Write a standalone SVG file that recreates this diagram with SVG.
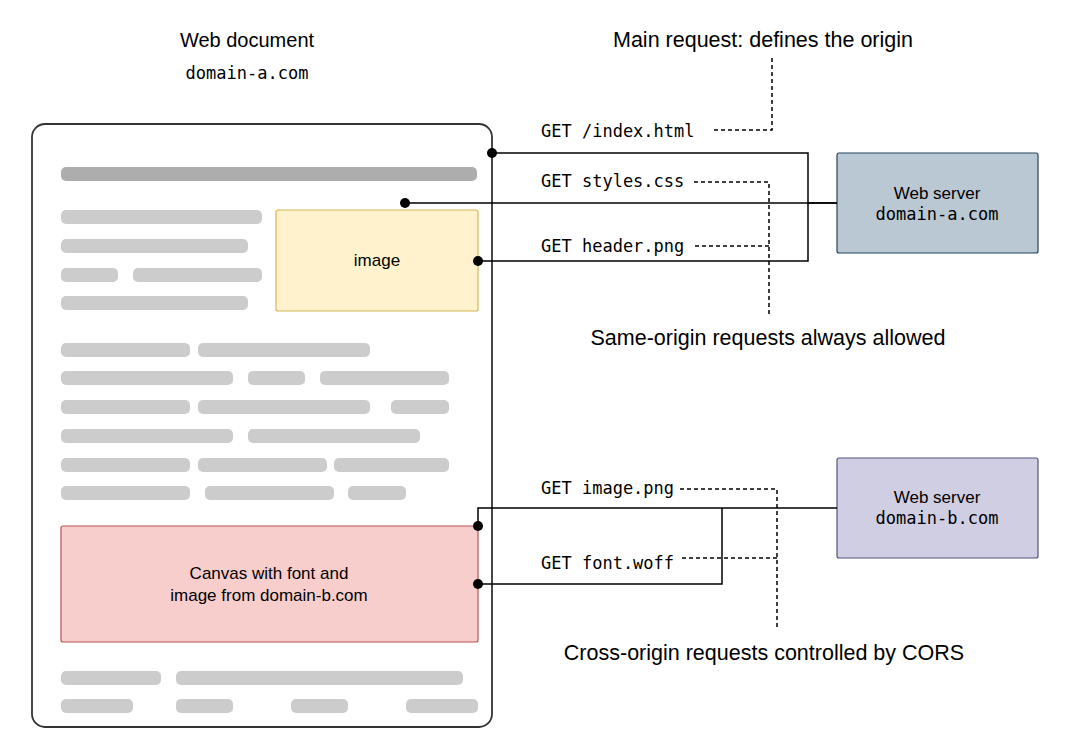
<svg xmlns="http://www.w3.org/2000/svg" width="1081" height="737" viewBox="0 0 1081 737">
<style>
.sans{font-family:"Liberation Sans",Arial,sans-serif;fill:#000}
.mono{font-family:"DejaVu Sans Mono","Liberation Mono",monospace;font-size:17px;fill:#000}
.bar{fill:#cccccc}
.conn{fill:none;stroke:#000;stroke-width:1.5}
.dash{fill:none;stroke:#000;stroke-width:1.5;stroke-dasharray:4 3}
.dot{fill:#000}
</style>
<rect width="1081" height="737" fill="#fff"/>
<g id="titles">
<text class="sans" x="247" y="47" font-size="20" text-anchor="middle">Web document</text>
<text class="mono" x="247" y="79" text-anchor="middle">domain-a.com</text>
<text class="sans" x="763" y="47" font-size="21.5" text-anchor="middle">Main request: defines the origin</text>
<text class="sans" x="768" y="345" font-size="21.5" text-anchor="middle">Same-origin requests always allowed</text>
<text class="sans" x="764" y="660" font-size="21.5" text-anchor="middle">Cross-origin requests controlled by CORS</text>
</g>
<g id="document">
<rect x="32" y="124" width="460" height="603" rx="13" fill="#fff" stroke="#333" stroke-width="1.8"/>
<rect x="61" y="167" width="416" height="14" rx="5" fill="#adadad"/>
<rect class="bar" x="61" y="210" width="201" height="14" rx="5"/>
<rect class="bar" x="61" y="239" width="187" height="14" rx="5"/>
<rect class="bar" x="61" y="268" width="57" height="14" rx="5"/>
<rect class="bar" x="133" y="268" width="129" height="14" rx="5"/>
<rect class="bar" x="61" y="296" width="187" height="14" rx="5"/>
<rect class="bar" x="61" y="343" width="129" height="14" rx="5"/>
<rect class="bar" x="198" y="343" width="172" height="14" rx="5"/>
<rect class="bar" x="61" y="371" width="172" height="14" rx="5"/>
<rect class="bar" x="248" y="371" width="57" height="14" rx="5"/>
<rect class="bar" x="320" y="371" width="129" height="14" rx="5"/>
<rect class="bar" x="61" y="400" width="129" height="14" rx="5"/>
<rect class="bar" x="198" y="400" width="172" height="14" rx="5"/>
<rect class="bar" x="391" y="400" width="58" height="14" rx="5"/>
<rect class="bar" x="61" y="429" width="172" height="14" rx="5"/>
<rect class="bar" x="248" y="429" width="172" height="14" rx="5"/>
<rect class="bar" x="61" y="458" width="129" height="14" rx="5"/>
<rect class="bar" x="198" y="458" width="129" height="14" rx="5"/>
<rect class="bar" x="334" y="458" width="115" height="14" rx="5"/>
<rect class="bar" x="61" y="486" width="129" height="14" rx="5"/>
<rect class="bar" x="205" y="486" width="129" height="14" rx="5"/>
<rect class="bar" x="348" y="486" width="58" height="14" rx="5"/>
<rect class="bar" x="61" y="671" width="100" height="14" rx="5"/>
<rect class="bar" x="176" y="671" width="287" height="14" rx="5"/>
<rect class="bar" x="61" y="699" width="72" height="14" rx="5"/>
<rect class="bar" x="176" y="699" width="57" height="14" rx="5"/>
<rect class="bar" x="291" y="699" width="57" height="14" rx="5"/>
<rect class="bar" x="406" y="699" width="72" height="14" rx="5"/>
</g>
<g id="image">
<rect x="276" y="210" width="202" height="101" rx="2" fill="#fff2cc" stroke="#d6b656" stroke-width="1.2"/>
<text class="sans" x="377" y="266" font-size="17" text-anchor="middle">image</text>
</g>
<g id="canvas">
<rect x="61" y="526" width="417" height="116" rx="2" fill="#f8cecc" stroke="#b85450" stroke-width="1.2"/>
<text class="sans" x="269" y="579" font-size="17" text-anchor="middle">Canvas with font and</text>
<text class="sans" x="269" y="601" font-size="17" text-anchor="middle">image from domain-b.com</text>
</g>
<g id="server-a">
<rect x="837" y="153" width="201" height="100" rx="2" fill="#bac8d3" stroke="#23445d" stroke-width="1.2"/>
<text class="sans" x="937" y="199" font-size="17" text-anchor="middle">Web server</text>
<text class="mono" x="937" y="220" text-anchor="middle">domain-a.com</text>
</g>
<g id="server-b">
<rect x="837" y="458" width="201" height="100" rx="2" fill="#d0cee2" stroke="#56517e" stroke-width="1.2"/>
<text class="sans" x="937" y="503" font-size="17" text-anchor="middle">Web server</text>
<text class="mono" x="937" y="524" text-anchor="middle">domain-b.com</text>
</g>
<g id="connectors">
<path class="conn" d="M492 153H808V203H837"/>
<path class="conn" d="M405 203H837"/>
<path class="conn" d="M478 261H808V203"/>
<path class="conn" d="M478 526V508H837"/>
<path class="conn" d="M478 584H722V508"/>
<circle class="dot" cx="492" cy="153" r="5"/>
<circle class="dot" cx="405" cy="203" r="5"/>
<circle class="dot" cx="478" cy="261" r="5"/>
<circle class="dot" cx="478" cy="526" r="5"/>
<circle class="dot" cx="478" cy="584" r="5"/>
<path class="dash" d="M772 58V130H712"/>
<path class="dash" d="M769 314V182H694M769 246H694"/>
<path class="dash" d="M777 627V489H679M777 558H679"/>
</g>
<g id="labels">
<text class="mono" x="541" y="137">GET /index.html</text>
<text class="mono" x="541" y="187">GET styles.css</text>
<text class="mono" x="541" y="252">GET header.png</text>
<text class="mono" x="541" y="494">GET image.png</text>
<text class="mono" x="541" y="569">GET font.woff</text>
</g>
</svg>
